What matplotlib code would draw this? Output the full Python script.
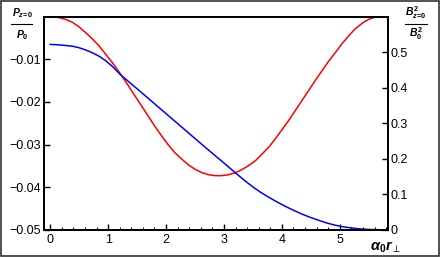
import matplotlib
matplotlib.use("Agg")
import matplotlib.pyplot as plt
from matplotlib.ticker import MultipleLocator
from matplotlib.patches import Rectangle
from matplotlib.lines import Line2D

# values
pressure_x = [0, 0.13, 0.26, 0.38, 0.49, 0.60, 0.72, 0.84, 0.95, 1.08, 1.21, 1.32,
              1.41, 1.58, 1.70, 1.81, 1.93, 2.04, 2.15, 2.27, 2.38, 2.50, 2.62, 2.74,
              2.85, 2.95, 3.07, 3.20, 3.32, 3.43, 3.55, 3.66, 3.78, 3.89, 4.12, 4.35,
              4.58, 4.81, 4.93, 5.04, 5.16, 5.27, 5.40, 5.50, 5.60, 5.67]
pressure_y = [0, -0.00015, -0.0006, -0.0013, -0.0023, -0.0036, -0.0051, -0.0068,
              -0.0087, -0.0109, -0.0134, -0.0156, -0.0175, -0.0210, -0.0235, -0.0258,
              -0.0281, -0.0301, -0.0319, -0.0334, -0.0347, -0.0358, -0.0366, -0.0371,
              -0.0373, -0.0373, -0.0371, -0.0366, -0.0358, -0.0349, -0.0337, -0.0322,
              -0.0305, -0.0286, -0.0243, -0.0196, -0.0149, -0.0104, -0.0083, -0.0063,
              -0.0044, -0.0028, -0.0014, -0.0006, -0.00015, 0]
field_x = [0, 0.13, 0.26, 0.38, 0.49, 0.60, 0.72, 0.84, 0.95, 1.08, 1.21, 1.50,
           1.80, 2.10, 2.40, 2.70, 3.00, 3.20, 3.34, 3.48, 3.62, 3.77, 3.91, 4.06,
           4.20, 4.35, 4.49, 4.63, 4.78, 4.92, 5.07, 5.21, 5.35, 5.50, 5.67]
field_y = [0.522, 0.521, 0.519, 0.517, 0.513, 0.507, 0.499, 0.489, 0.477, 0.459,
           0.437, 0.397, 0.355, 0.313, 0.271, 0.229, 0.188, 0.160, 0.141, 0.123,
           0.107, 0.092, 0.079, 0.066, 0.055, 0.044, 0.035, 0.027, 0.019, 0.013,
           0.008, 0.005, 0.0025, 0.001, 0]
left_ticks = [-0.05, -0.04, -0.03, -0.02, -0.01]
right_ticks = [0, 0.1, 0.2, 0.3, 0.4, 0.5]
x_ticks = [0, 1, 2, 3, 4, 5]

plt.rcParams["font.family"] = ["Liberation Sans", "DejaVu Sans"]
plt.rcParams["mathtext.fontset"] = "custom"
plt.rcParams["mathtext.rm"] = "Liberation Sans:bold"
plt.rcParams["mathtext.it"] = "Liberation Sans:bold:italic"
plt.rcParams["mathtext.bf"] = "Liberation Sans:bold"
plt.rcParams["mathtext.fallback"] = "stixsans"

W, H = 440, 257
fig = plt.figure(figsize=(W / 100, H / 100), dpi=100)
ax = fig.add_axes([43.5 / W, 1 - 229.8 / H, (387.5 - 43.5) / W, (229.8 - 16.7) / H])
ax2 = ax.twinx()

# pressure on the left axis, field on the right axis
ax.plot(pressure_x, pressure_y, color="#ff0000", lw=1.1)
ax2.plot(field_x, field_y, color="#0000ff", lw=1.1)

ax.set_xlim(-0.117, 5.824)
ax.set_ylim(-0.05, 0)
ax2.set_ylim(0, 0.6)

ax.set_xticks(x_ticks)
ax.xaxis.set_minor_locator(MultipleLocator(0.2))
ax.set_yticks(left_ticks)
ax.set_yticklabels(["\u22120.05", "\u22120.04", "\u22120.03", "\u22120.02", "\u22120.01"])
ax2.set_yticks(right_ticks)
ax2.set_yticklabels(["0", "0.1", "0.2", "0.3", "0.4", "0.5"])

ax.tick_params(axis="x", which="major", direction="in", length=4, width=1, labelsize=9, pad=3, top=False)
ax.tick_params(axis="x", which="minor", direction="in", length=2, width=0.8, top=False)
ax.tick_params(axis="y", direction="in", length=4, width=1, labelsize=9, pad=2)
ax2.tick_params(axis="y", direction="in", length=4, width=1, labelsize=9, pad=2)

for a in (ax, ax2):
    for s in a.spines.values():
        s.set_linewidth(1.4)

# fraction labels over the two y axes
def px(x, y):
    return x / W, 1 - y / H

fig.text(*px(22, 13), r"$P_{z\!=\!0}$", ha="center", va="center", fontsize=7.5)
fig.text(*px(22, 35), r"$P_0$", ha="center", va="center", fontsize=7.5)
fig.add_artist(Line2D([11 / W, 32 / W], [1 - 23.7 / H] * 2, color="black", lw=0.8))
fig.text(*px(416, 13), r"$B^2_{z\!=\!0}$", ha="center", va="center", fontsize=7.5)
fig.text(*px(416, 34), r"$B^2_0$", ha="center", va="center", fontsize=7.5)
fig.add_artist(Line2D([405 / W, 427 / W], [1 - 23.7 / H] * 2, color="black", lw=0.8))
fig.text(*px(386, 247), r"$\alpha_0 r_\perp$", ha="center", va="center", fontsize=10.5)

# outer frame round the whole picture
fig.add_artist(Rectangle((0.002, 0.003), 0.996, 0.994, transform=fig.transFigure,
                         fill=False, edgecolor="#333333", lw=1.2))

fig.savefig("out.png", dpi=100)
